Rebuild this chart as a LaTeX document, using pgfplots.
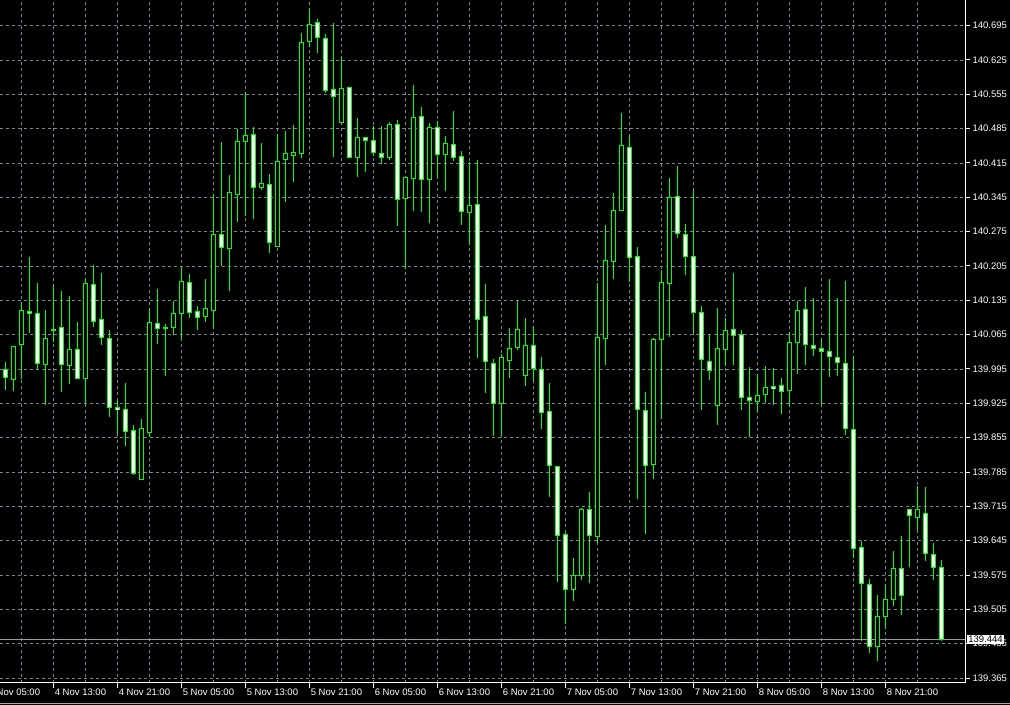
\documentclass[border=0pt]{standalone}
\usepackage{fontspec}
\setmainfont{Liberation Sans}
\usepackage{pgfplots}
\pgfplotsset{compat=1.18}
\usepackage{pgfplotstable}
\usetikzlibrary{backgrounds}
\definecolor{cgreen}{RGB}{0,255,0}
\definecolor{gridc}{RGB}{119,136,153}
\definecolor{linec}{RGB}{150,156,166}

% bull candles (close > open): black body
\pgfplotstableread{
i o h l c
1 139.974 140.044 139.951 140.041
2 140.045 140.134 139.977 140.115
5 140.005 140.117 139.924 140.058
8 140.003 140.144 139.965 140.035
10 139.976 140.180 139.924 140.170
17 139.771 139.895 139.771 139.874
18 139.865 140.119 139.857 140.090
21 140.079 140.134 140.064 140.109
22 140.109 140.202 140.054 140.175
25 140.102 140.180 140.091 140.119
26 140.114 140.353 140.078 140.270
28 140.242 140.391 140.155 140.355
29 140.352 140.486 140.297 140.461
30 140.458 140.562 140.309 140.472
32 140.365 140.455 140.359 140.373
34 140.246 140.474 140.246 140.419
35 140.423 140.482 140.336 140.435
36 140.430 140.494 140.377 140.437
37 140.434 140.682 140.426 140.661
38 140.662 140.730 140.654 140.698
42 140.500 140.632 140.500 140.569
44 140.427 140.508 140.387 140.467
48 140.428 140.499 140.423 140.494
50 140.343 140.386 140.200 140.386
51 140.385 140.574 140.318 140.510
53 140.381 140.498 140.293 140.488
55 140.433 140.470 140.359 140.455
58 140.316 140.418 140.248 140.329
62 139.926 140.026 139.857 140.019
63 140.012 140.080 139.979 140.037
64 140.040 140.134 140.034 140.076
65 139.983 140.100 139.962 140.043
71 139.546 139.612 139.523 139.576
72 139.575 139.712 139.565 139.709
74 139.655 140.170 139.640 140.060
75 140.058 140.289 140.003 140.217
76 140.214 140.355 140.178 140.319
77 140.318 140.518 140.318 140.451
81 139.800 140.060 139.773 140.056
82 140.056 140.197 139.894 140.172
83 140.170 140.384 140.061 140.347
89 139.921 140.119 139.881 140.037
90 140.035 140.099 140.001 140.074
94 139.930 139.985 139.907 139.943
95 139.945 140.001 139.926 139.958
98 139.950 140.072 139.920 140.049
99 140.049 140.134 139.985 140.115
109 139.430 139.534 139.400 139.491
110 139.490 139.559 139.466 139.525
111 139.525 139.624 139.512 139.589
114 139.693 139.756 139.667 139.709
}\bull

% bear candles (close <= open): white body
\pgfplotstableread{
i o h l c
0 139.994 140.009 139.952 139.979
3 140.113 140.223 140.069 140.109
4 140.109 140.172 139.994 140.007
6 140.076 140.166 140.051 140.074
7 140.082 140.154 139.949 140.005
9 140.035 140.091 139.976 139.977
11 140.170 140.209 140.081 140.094
12 140.096 140.192 140.044 140.060
13 140.058 140.075 139.898 139.918
14 139.917 139.932 139.860 139.913
15 139.913 139.968 139.840 139.869
16 139.870 139.881 139.779 139.782
19 140.090 140.158 140.047 140.079
20 140.080 140.088 139.981 140.080
23 140.173 140.189 140.100 140.112
24 140.113 140.125 140.075 140.100
27 140.270 140.460 140.207 140.244
31 140.474 140.489 140.301 140.365
33 140.373 140.394 140.232 140.253
39 140.702 140.709 140.640 140.673
40 140.669 140.678 140.558 140.564
41 140.565 140.702 140.428 140.552
43 140.569 140.569 140.426 140.427
45 140.467 140.467 140.397 140.461
46 140.461 140.491 140.430 140.436
47 140.436 140.491 140.414 140.428
49 140.494 140.504 140.287 140.343
52 140.510 140.529 140.316 140.382
54 140.489 140.501 140.384 140.433
56 140.455 140.521 140.419 140.428
57 140.429 140.440 140.291 140.316
59 140.331 140.423 140.018 140.096
60 140.102 140.170 139.947 140.011
61 140.007 140.015 139.859 139.925
66 140.043 140.083 139.971 139.996
67 139.996 140.019 139.874 139.908
68 139.908 139.968 139.736 139.798
69 139.797 139.799 139.561 139.658
70 139.658 139.663 139.477 139.546
73 139.709 139.745 139.560 139.655
78 140.449 140.471 140.173 140.224
79 140.225 140.243 139.729 139.913
80 139.911 139.950 139.660 139.798
84 140.349 140.409 140.263 140.272
85 140.270 140.292 140.187 140.225
86 140.224 140.358 140.068 140.111
87 140.110 140.125 139.913 140.015
88 140.012 140.068 139.975 139.992
91 140.076 140.193 140.004 140.064
92 140.066 140.076 139.913 139.937
93 139.937 140.000 139.857 139.932
96 139.960 139.998 139.922 139.956
97 139.961 139.978 139.903 139.950
100 140.117 140.162 140.003 140.045
101 140.045 140.141 140.022 140.039
102 140.037 140.058 139.922 140.032
103 140.031 140.180 139.979 140.020
104 140.019 140.141 139.981 140.008
105 140.007 140.176 139.862 139.873
106 139.873 140.022 139.611 139.631
107 139.631 139.644 139.441 139.558
108 139.556 139.568 139.417 139.430
112 139.589 139.655 139.493 139.534
113 139.709 139.711 139.592 139.697
115 139.701 139.756 139.604 139.619
116 139.619 139.642 139.566 139.592
117 139.592 139.608 139.441 139.444
}\bear

\pgfplotsset{
  wick/.style={draw=none, mark=none, forget plot,
    error bars/.cd, y dir=both, y explicit, error mark=none,
    error bar style={solid, draw=cgreen, line width=1pt}},
  bodyout/.style={draw=none, mark=none, forget plot,
    error bars/.cd, y dir=both, y explicit, error mark=none,
    error bar style={solid, draw=cgreen, line width=5pt}},
  bodyin/.style={draw=none, mark=none, forget plot,
    error bars/.cd, y dir=both, y explicit, error mark=none,
    error bar style={solid, draw=#1, line width=3pt}},
}

\begin{document}
\begin{tikzpicture}
\begin{axis}[
  name=ax, at={(0pt,0pt)}, anchor=south west,
  scale only axis, width=965pt, height=683pt,
  xmin=-0.6625, xmax=119.9625,
  ymin=139.35485, ymax=140.7473,
  axis line style={draw=none},
  xtick={6,14,...,110},
  xticklabels={4 Nov 13:00,4 Nov 21:00,5 Nov 05:00,5 Nov 13:00,5 Nov 21:00,6 Nov 05:00,6 Nov 13:00,6 Nov 21:00,7 Nov 05:00,7 Nov 13:00,7 Nov 21:00,8 Nov 05:00,8 Nov 13:00,8 Nov 21:00},
  minor xtick={2,10,...,118},
  ytick={139.365,139.435,139.505,139.575,139.645,139.715,139.785,139.855,139.925,139.995,140.065,140.135,140.205,140.275,140.345,140.415,140.485,140.555,140.625,140.695},
  yticklabels={139.365,139.435,139.505,139.575,139.645,139.715,139.785,139.855,139.925,139.995,140.065,140.135,140.205,140.275,140.345,140.415,140.485,140.555,140.625,140.695},
  yticklabel pos=right,
  tick align=outside,
  major tick length=5pt, minor tick length=0pt,
  tick style={white, line width=1pt},
  grid=both,
  major grid style={gridc, line width=0.9pt, dash pattern=on 3pt off 3pt},
  minor grid style={gridc, line width=0.9pt, dash pattern=on 3pt off 3pt},
  ticklabel style={white, font=\fontsize{9.5pt}{11pt}\selectfont},
  xticklabel style={anchor=north west, xshift=-2pt, yshift=3pt},
  yticklabel style={anchor=west, xshift=-1pt},
  clip=true,
]
\addplot[linec, line width=1pt, forget plot] coordinates {(-0.6625,139.444) (119.9625,139.444)};
% wicks
\addplot[wick] table[x=i, y expr={(\thisrow{h}+\thisrow{l})/2}, y error expr={(\thisrow{h}-\thisrow{l})/2}] \bull;
\addplot[wick] table[x=i, y expr={(\thisrow{h}+\thisrow{l})/2}, y error expr={(\thisrow{h}-\thisrow{l})/2}] \bear;
% bodies
\addplot[bodyout] table[x=i, y expr={(\thisrow{o}+\thisrow{c})/2}, y error expr={abs(\thisrow{o}-\thisrow{c})/2+0.00102}] \bull;
\addplot[bodyin=black] table[x=i, y expr={(\thisrow{o}+\thisrow{c})/2}, y error expr={max(abs(\thisrow{o}-\thisrow{c})/2-0.00102,0)}] \bull;
\addplot[bodyout] table[x=i, y expr={(\thisrow{o}+\thisrow{c})/2}, y error expr={abs(\thisrow{o}-\thisrow{c})/2+0.00102}] \bear;
\addplot[bodyin=white] table[x=i, y expr={(\thisrow{o}+\thisrow{c})/2}, y error expr={max(abs(\thisrow{o}-\thisrow{c})/2-0.00102,0)}] \bear;
\coordinate (lastp) at (axis cs:119.9625,139.444);
\coordinate (firstlbl) at (axis cs:-2,139.35485);
\end{axis}
\begin{scope}[on background layer]
\fill[black] ([yshift=-22pt]ax.south west) rectangle ([xshift=45pt]ax.north east);
\end{scope}
\draw[white, line width=1pt] (ax.south west) -- (ax.south east) -- (ax.north east);
\draw[white, line width=1pt] ([yshift=-5pt]firstlbl) -- (firstlbl);
\node[white, anchor=north west, font=\fontsize{9.5pt}{11pt}\selectfont, xshift=-4pt, yshift=-2pt] at (firstlbl) {4 Nov 05:00};
\node[fill=white, text=black, anchor=west, inner sep=1.2pt, font=\fontsize{9.5pt}{11pt}\selectfont] at ([xshift=2pt]lastp) {139.444};
\draw[gray!70, line width=1pt] ([yshift=-20.5pt]ax.south west) -- ++(1010pt,0pt);
\pgfresetboundingbox
\path[use as bounding box] ([yshift=-22pt]ax.south west) rectangle ([xshift=45pt]ax.north east);
\end{tikzpicture}
\end{document}
